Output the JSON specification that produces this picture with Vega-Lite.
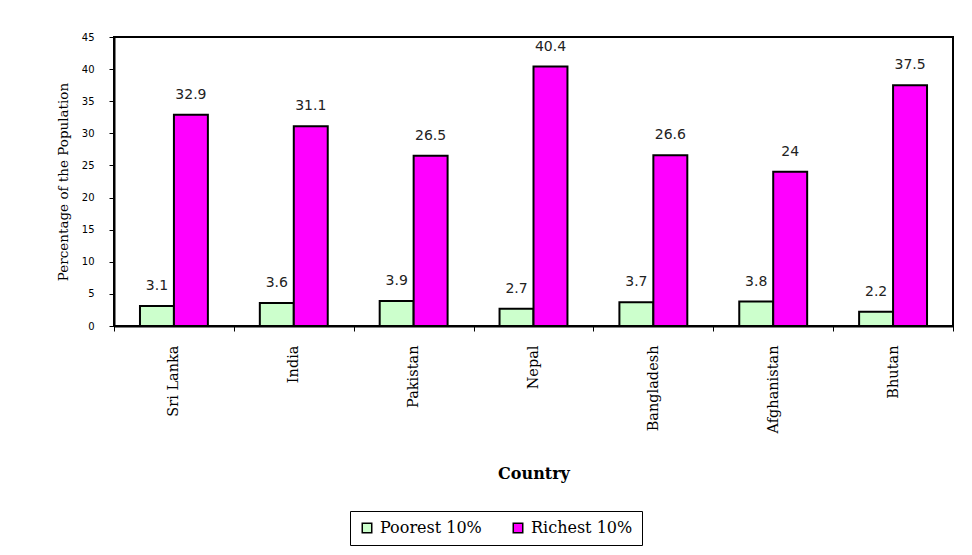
{
  "$schema": "https://vega.github.io/schema/vega-lite/v6.json",
  "width": 839,
  "height": 289,
  "autosize": {"type": "none"},
  "padding": {"left": 114, "top": 37, "right": 19, "bottom": 229},
  "background": "white",
  "data": {"values": [
    {"country": "Sri Lanka", "group": "Poorest 10%", "value": 3.1},
    {"country": "Sri Lanka", "group": "Richest 10%", "value": 32.9},
    {"country": "India", "group": "Poorest 10%", "value": 3.6},
    {"country": "India", "group": "Richest 10%", "value": 31.1},
    {"country": "Pakistan", "group": "Poorest 10%", "value": 3.9},
    {"country": "Pakistan", "group": "Richest 10%", "value": 26.5},
    {"country": "Nepal", "group": "Poorest 10%", "value": 2.7},
    {"country": "Nepal", "group": "Richest 10%", "value": 40.4},
    {"country": "Bangladesh", "group": "Poorest 10%", "value": 3.7},
    {"country": "Bangladesh", "group": "Richest 10%", "value": 26.6},
    {"country": "Afghanistan", "group": "Poorest 10%", "value": 3.8},
    {"country": "Afghanistan", "group": "Richest 10%", "value": 24},
    {"country": "Bhutan", "group": "Poorest 10%", "value": 2.2},
    {"country": "Bhutan", "group": "Richest 10%", "value": 37.5}
  ]},
  "encoding": {
    "x": {
      "field": "country", "type": "nominal", "sort": null,
      "scale": {"paddingInner": 0, "paddingOuter": 0},
      "axis": {
        "title": "Country", "labelAngle": -90, "tickBand": "extent",
        "labelFont": "DejaVu Serif", "labelFontSize": 14.5, "labelColor": "black",
        "labelPadding": 14, "tickSize": 5, "tickColor": "black", "domainColor": "black",
        "domainWidth": 2, "tickWidth": 1,
        "titleFont": "DejaVu Serif", "titleFontSize": 16, "titleFontWeight": "bold",
        "titleColor": "black", "titlePadding": 32
      }
    },
    "xOffset": {"field": "group", "type": "nominal", "scale": {"paddingInner": 0, "paddingOuter": 0.765}},
    "y": {
      "field": "value", "type": "quantitative",
      "scale": {"domain": [0, 45]},
      "axis": {
        "title": "Percentage of the Population", "values": [0, 5, 10, 15, 20, 25, 30, 35, 40, 45],
        "grid": false, "labelFont": "DejaVu Sans", "labelFontSize": 10, "labelColor": "black",
        "tickSize": 5, "tickColor": "black", "domainColor": "black", "domainWidth": 2,
        "labelPadding": 15,
        "titleFont": "DejaVu Serif", "titleFontSize": 13.5, "titleFontWeight": "normal",
        "titleColor": "black", "titlePadding": 11
      }
    }
  },
  "layer": [
    {
      "mark": {"type": "bar", "stroke": "black", "strokeWidth": 2},
      "encoding": {
        "color": {
          "field": "group", "type": "nominal",
          "scale": {"domain": ["Poorest 10%", "Richest 10%"], "range": ["#CCFFCC", "#FF00FF"]},
          "legend": {
            "title": null, "orient": "none", "legendX": 236, "legendY": 474, "direction": "horizontal",
            "symbolType": "square", "symbolSize": 90, "symbolStrokeColor": "black",
            "symbolStrokeWidth": 1.5, "symbolOpacity": 1,
            "labelFont": "DejaVu Serif", "labelFontSize": 16, "labelColor": "black",
            "strokeColor": "black", "padding": 9,
            "columnPadding": 28, "labelOffset": 5
          }
        }
      }
    },
    {
      "mark": {"type": "text", "dy": -20, "font": "DejaVu Sans", "fontSize": 14, "color": "#222222"},
      "encoding": {"text": {"field": "value", "type": "quantitative"}}
    }
  ],
  "config": {
    "view": {"stroke": "black", "strokeWidth": 2},
    "legend": {"labelFont": "DejaVu Serif", "labelFontSize": 16}
  }
}
